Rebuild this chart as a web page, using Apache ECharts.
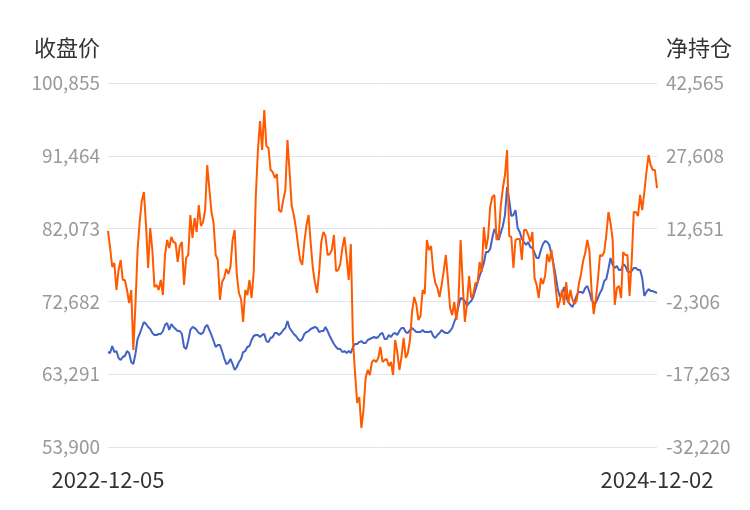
<!DOCTYPE html>
<html><head><meta charset="utf-8">
<script src="https://cdn.jsdelivr.net/npm/echarts@6/dist/echarts.min.js"></script>
<style>html,body{margin:0;padding:0;background:#fff}#c{width:750px;height:510px}</style>
</head><body><div id="c"></div>
<script>
const leftAxisName = '收盘价';
const rightAxisName = '净持仓';
const priceTicks = [53900, 63291, 72682, 82073, 91464, 100855];
const netTicks = [-32220, -17263, -2306, 12651, 27608, 42565];

const closePrice = [66150,66030,66930,66150,66280,65380,65120,65510,65640,66280,
66030,64860,64610,65900,67830,68480,69250,70020,69770,69380,
69120,68610,68350,68350,68480,68480,68860,69640,69900,68990,
69770,69380,69120,68860,68860,68480,66800,66540,67570,68990,
69380,69250,68990,68610,68480,68610,69380,69640,68990,68350,
67570,66800,67060,67060,66280,65380,64610,64740,65250,64610,
63830,64220,64860,65250,66150,66280,66800,66930,67700,68220,
68350,68350,68090,68350,68480,67570,67440,67960,68090,68610,
68610,68350,68610,68990,69250,70150,69250,68860,68480,68220,
67830,67570,67830,68480,68730,68860,69120,69250,69380,69250,
68730,68860,68860,69380,68860,68220,67700,67190,66800,66540,
66540,66150,66280,66030,66280,66030,66800,67190,67190,67440,
67570,67320,67320,67700,67830,67960,68090,67960,68090,68480,
68610,67830,67830,68350,68090,68480,68610,68350,68860,69250,
69250,68730,68610,68990,69250,68990,68730,68730,68730,68990,
68730,68730,68730,68860,68220,67960,68350,68610,68990,68730,
68610,68610,68860,69250,70020,70800,72090,73120,72990,72730,
72090,72480,72730,73250,74150,75060,75960,76730,77640,79050,
79050,79440,80860,82020,81380,80600,81510,82410,83830,87440,
85760,83700,83830,84470,82150,81630,80730,80340,79960,80340,
79700,79570,78930,78280,78280,79310,80090,80470,80340,79960,
78800,77510,75960,74280,73250,73640,74540,73250,72600,72220,
71960,72730,73510,73890,73890,73770,74410,74670,73890,72860,
72480,72480,73120,73770,74280,75310,75570,76860,78280,77380,
76990,77250,76730,76730,77510,77250,76600,76470,76600,76990,
76990,76730,76730,75700,73380,73890,74280,74020,74020,73890,
73770];

const netPosition = [12160,8670,4760,5590,40,4150,6200,2090,2090,40,
-2630,40,-12290,-3040,8260,14010,18320,20170,13390,4560,
12780,8260,650,1070,40,2090,-990,7230,10310,8670,
10930,9900,9690,5790,9080,9900,1070,6610,7230,15450,
10720,14830,11950,17500,13190,14010,16470,25720,20790,16060,
13800,7230,6200,-2020,1680,2500,4350,3330,4760,10310,
12370,3120,-580,-1810,-6540,40,-990,2090,-1610,3740,
19350,28800,34760,28800,37020,29620,29210,24690,24280,23050,
23870,16470,16060,18530,20580,30860,24280,17300,15450,12780,
9280,6200,5180,9900,13390,15450,9690,4560,1680,-580,
3740,9900,11950,11130,7230,7430,8260,11340,3940,4150,
5380,8670,10930,6820,2090,9490,-10230,-17010,-23180,-21950,
-28300,-24620,-18040,-16400,-17430,-14750,-14340,-14750,-13930,-11670,
-14750,-14340,-14140,-15580,-14750,-17430,-10230,-12700,-16400,-13730,
-9820,-13930,-12910,-10230,-4480,-1400,-2840,-6130,-5300,40,
-780,10310,8260,9080,4150,1480,450,-1400,1070,3940,
7230,2090,-3660,-5100,-2430,-6130,-2020,10310,1270,-6540,
-2840,2920,-1610,-780,1480,1480,5790,3740,12980,8460,
10930,17090,19140,19560,10310,10930,17300,20990,23660,28800,
11130,10930,4560,10310,10520,10520,6200,12370,12370,11340,
9900,11950,2500,1070,-1610,2500,1270,2920,7430,5790,
8260,4760,650,-3660,-2220,40,-3040,1680,-2630,40,
-2020,-2840,-2020,1270,3330,6000,7640,10310,8050,40,
-4890,-2020,2090,7230,7020,7850,11340,16060,13800,10310,
-3040,450,860,-1610,7850,7230,7230,-1190,5790,16060,
16060,15240,19560,16470,20170,24280,27770,25720,24690,24690,
20990];

// categories: every other trading weekday from 2022-12-05 to 2024-12-02
const dates = [];
(function () {
  let t = Date.UTC(2022, 11, 5);
  const end = Date.UTC(2024, 11, 2);
  let k = 0;
  while (t <= end) {
    const wd = new Date(t).getUTCDay();
    if (wd !== 0 && wd !== 6) {
      if (k % 2 === 0) dates.push(new Date(t).toISOString().slice(0, 10));
      k++;
    }
    t += 86400000;
  }
})();

const FONT = 'Noto Sans CJK SC';
const chart = echarts.init(document.getElementById('c'));
chart.setOption({
  animation: false,
  backgroundColor: '#fff',
  textStyle: { fontFamily: FONT },
  grid: { left: 108, right: 93, top: 83, bottom: 63, containLabel: false },
  xAxis: {
    type: 'category',
    data: dates,
    boundaryGap: false,
    axisLine: { show: false },
    axisTick: { show: false },
    splitLine: { show: false },
    axisLabel: {
      interval: function (i) { return i === 0 || i === dates.length - 1; },
      fontSize: 22, color: '#333', margin: 22, fontFamily: FONT
    }
  },
  yAxis: [{
    type: 'value',
    position: 'left',
    min: priceTicks[0], max: priceTicks[priceTicks.length - 1],
    interval: priceTicks[1] - priceTicks[0],
    name: leftAxisName,
    nameLocation: 'end',
    nameGap: 24,
    nameTextStyle: { fontSize: 22, color: '#333', align: 'right', padding: [0, 8, 0, 0], fontFamily: FONT },
    axisLine: { show: false },
    axisTick: { show: false },
    axisLabel: { fontSize: 19, color: '#999', margin: 8, fontFamily: FONT },
    splitLine: { show: true, lineStyle: { color: '#e0e6f1', width: 1 } }
  }, {
    type: 'value',
    position: 'right',
    min: netTicks[0], max: netTicks[netTicks.length - 1],
    interval: netTicks[1] - netTicks[0],
    name: rightAxisName,
    nameLocation: 'end',
    nameGap: 24,
    nameTextStyle: { fontSize: 22, color: '#333', align: 'left', padding: [0, 0, 0, 9], fontFamily: FONT },
    axisLine: { show: false },
    axisTick: { show: false },
    axisLabel: { fontSize: 19, color: '#999', margin: 9, fontFamily: FONT },
    splitLine: { show: false }
  }],
  series: [{
    name: leftAxisName,
    type: 'line',
    yAxisIndex: 0,
    data: closePrice,
    showSymbol: false,
    symbol: 'none',
    lineStyle: { color: '#4262c6', width: 2 },
    itemStyle: { color: '#4262c6' }
  }, {
    name: rightAxisName,
    type: 'line',
    yAxisIndex: 1,
    data: netPosition,
    showSymbol: false,
    symbol: 'none',
    lineStyle: { color: '#ff5a00', width: 2 },
    itemStyle: { color: '#ff5a00' }
  }]
});
</script>
</body></html>
